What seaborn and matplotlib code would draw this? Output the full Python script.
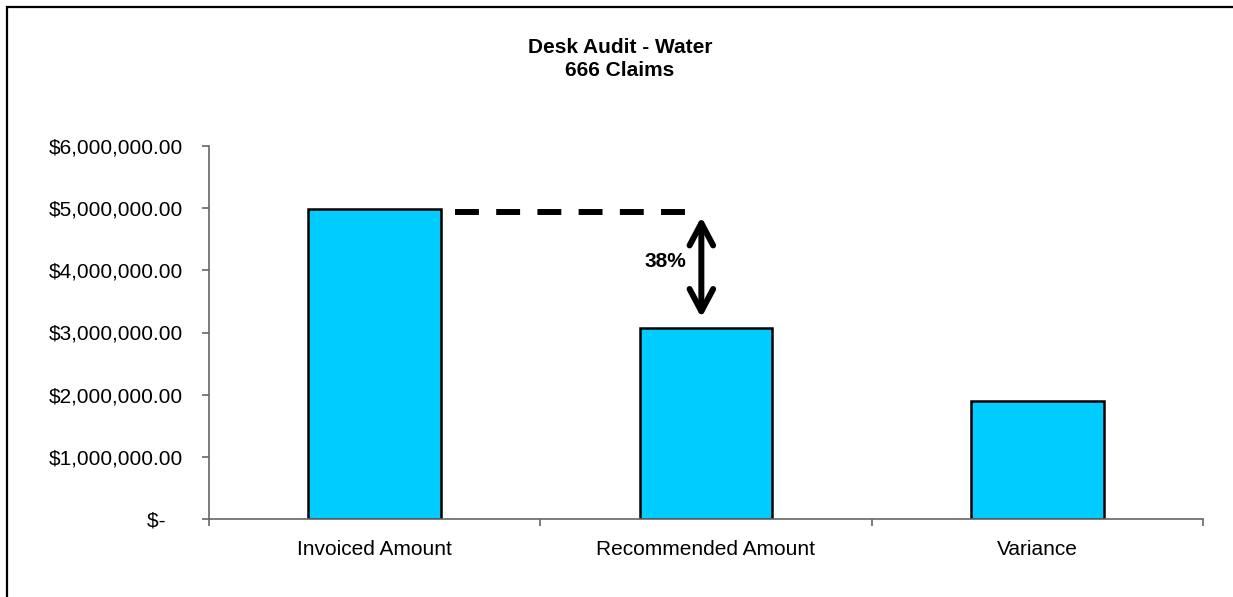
import matplotlib
matplotlib.use('Agg')
import matplotlib.pyplot as plt
import matplotlib.ticker as mticker
from matplotlib.patches import Rectangle
import seaborn as sns

# Data
categories = ['Invoiced Amount', 'Recommended Amount', 'Variance']
amounts = [4980000, 3080000, 1900000]
pct_label = '38%'
title_lines = ['Desk Audit - Water', '666 Claims']

sns.set_theme(style='white')
plt.rcParams['font.family'] = ['Liberation Sans', 'DejaVu Sans']
plt.rcParams['text.color'] = 'black'

fig = plt.figure(figsize=(12.33, 5.97), dpi=100)
ax = fig.add_axes([209 / 1233, 1 - 519 / 597, (1203 - 209) / 1233, (519 - 146) / 597])

sns.barplot(x=categories, y=amounts, color='#00CCFF', saturation=1,
            edgecolor='black', linewidth=1.8, width=0.4, ax=ax)

ax.set_xlim(-0.5, 2.5)
ax.set_ylim(0, 6000000)
ax.set_yticks(range(0, 6000001, 1000000))


def money(v, pos):
    if v == 0:
        return '$-   '
    return '${:,.2f}'.format(v)


ax.yaxis.set_major_formatter(mticker.FuncFormatter(money))
ax.set_xticks([-0.5, 0.5, 1.5, 2.5], minor=True)
ax.tick_params(axis='x', which='major', length=0, pad=15, labelsize=15, labelcolor='black')
ax.tick_params(axis='x', which='minor', length=5, width=1.2, direction='out', color='#666666', bottom=True)
ax.tick_params(axis='y', length=5, width=1.2, direction='out', color='#666666', pad=14,
               labelsize=15, left=True, labelcolor='black')
for s in ['top', 'right']:
    ax.spines[s].set_visible(False)
for s in ['left', 'bottom']:
    ax.spines[s].set_color('#666666')
    ax.spines[s].set_linewidth(1.2)
ax.set_xlabel('')
ax.set_ylabel('')

# dashed reference line and double arrow
ax.plot([0.243, 0.965], [amounts[0] - 40000, amounts[0] - 40000], color='black',
        lw=4.3, dashes=(4, 2.9), solid_capstyle='butt', dash_capstyle='butt')
ax.annotate('', xy=(0.986, amounts[0] - 120000), xytext=(0.986, amounts[1] + 160000),
            arrowprops=dict(arrowstyle='<->,head_length=1.6,head_width=0.85',
                            lw=4.3, color='black', mutation_scale=10,
                            shrinkA=0, shrinkB=0))
ax.text(0.878, (amounts[0] + amounts[1]) / 2 + 120000, pct_label, ha='center', va='center',
        fontsize=15, fontweight='bold', color='black')

fig.text(620 / 1233, 1 - 59 / 597, '\n'.join(title_lines), ha='center', va='center',
         fontsize=15, fontweight='bold', linespacing=1.25, color='black')

# outer border
fig.patches.append(Rectangle((7 / 1233, -0.05), 1.2, 1 - 7 / 597 + 0.05,
                             transform=fig.transFigure, fill=False, lw=1.6,
                             edgecolor='black'))

fig.savefig('out.png', dpi=100)
